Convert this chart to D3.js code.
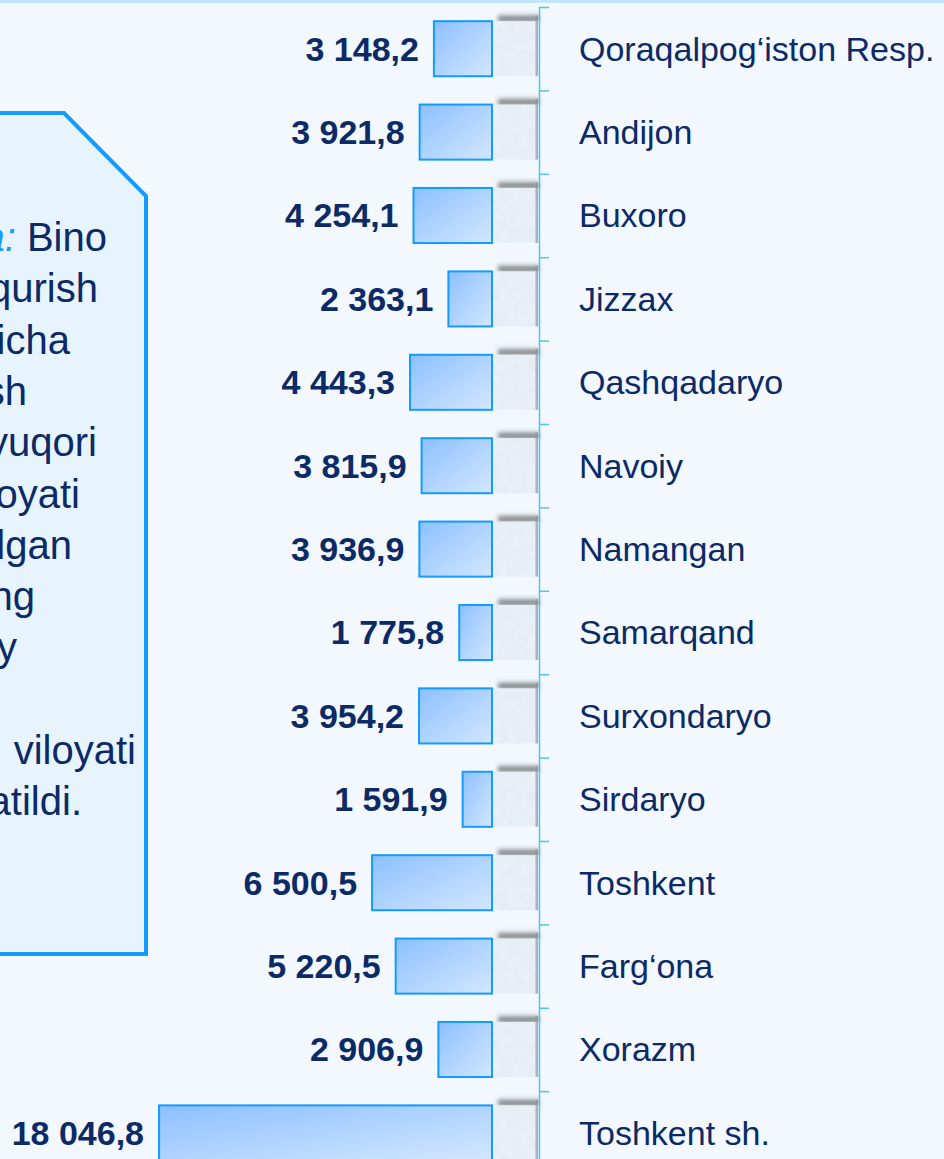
<!DOCTYPE html>
<html>
<head>
<meta charset="utf-8">
<script src="https://cdn.jsdelivr.net/npm/d3@7"></script>
<style>
  body { margin: 0; background: #f2f8fe; }
  svg { display: block; font-family: "Liberation Sans", Arial, sans-serif; }
</style>
</head>
<body>
<svg id="chart" width="944" height="1159"></svg>
<script>
// regions (top to bottom) and values
var regions = ["Qoraqalpog‘iston Resp.", "Andijon", "Buxoro", "Jizzax", "Qashqadaryo",
    "Navoiy", "Namangan", "Samarqand", "Surxondaryo", "Sirdaryo", "Toshkent",
    "Farg‘ona", "Xorazm", "Toshkent sh."];
var values = [3148.2, 3921.8, 4254.1, 2363.1, 4443.3, 3815.9, 3936.9, 1775.8,
    3954.2, 1591.9, 6500.5, 5220.5, 2906.9, 18046.8];

// note box text (only right part of it is visible on the slide)
var noteLines = ["Bino", "qurish", "bo‘yicha", "ishlash", "eng yuqori", "viloyati",
    "bo‘lgan", "ning", "ijtimoiy", "", "viloyati", "ko‘rsatildi."];
var noteEnds = [107, 98, 70, 27, 97, 80, 72, 35, 17, 0, 136, 82];

var svg = d3.select("#chart"),
    width = +svg.attr("width"),
    height = +svg.attr("height");

var navy = "#0b2a66";

var uzNum = d3.formatLocale({decimal: ",", thousands: "\u00a0", grouping: [3], currency: ["", ""]});
var fmt = uzNum.format(",.1f");

var defs = svg.append("defs");

var grad = defs.append("linearGradient").attr("id", "barFill")
    .attr("x1", 0).attr("y1", 0).attr("x2", 1).attr("y2", 1);
grad.append("stop").attr("offset", "0%").attr("stop-color", "#8cc0ff");
grad.append("stop").attr("offset", "100%").attr("stop-color", "#d3e7ff");

var shade = defs.append("linearGradient").attr("id", "shade")
    .attr("x1", 0).attr("y1", 0).attr("x2", 0).attr("y2", 1);
shade.append("stop").attr("offset", "0%").attr("stop-color", "#666").attr("stop-opacity", 0);
shade.append("stop").attr("offset", "60%").attr("stop-color", "#555").attr("stop-opacity", 0.7);
shade.append("stop").attr("offset", "100%").attr("stop-color", "#555").attr("stop-opacity", 0.95);

var blur = defs.append("filter").attr("id", "blur").attr("x", -0.3).attr("y", -1)
    .attr("width", 1.6).attr("height", 3);
blur.append("feGaussianBlur").attr("stdDeviation", 2);

var spk = defs.append("filter").attr("id", "speckle").attr("x", 0).attr("y", 0)
    .attr("width", 1).attr("height", 1);
spk.append("feTurbulence").attr("type", "fractalNoise").attr("baseFrequency", 0.14)
    .attr("numOctaves", 2).attr("seed", 4).attr("result", "t");
spk.append("feColorMatrix").attr("in", "t").attr("type", "matrix")
    .attr("values", "0 0 0 0 0.76  0 0 0 0 0.81  0 0 0 0 0.87  1.7 0 0 0 -0.65")
    .attr("result", "d");
spk.append("feComposite").attr("in", "d").attr("in2", "SourceGraphic")
    .attr("operator", "in").attr("result", "m");
var mg = spk.append("feMerge");
mg.append("feMergeNode").attr("in", "SourceGraphic");
mg.append("feMergeNode").attr("in", "m");

// top strip
svg.append("rect").attr("x", 0).attr("y", 0).attr("width", width).attr("height", 3)
    .attr("fill", "#c3e6fb");

// note box
svg.append("path")
    .attr("d", "M-10,113 L64,113 L146,196 L146,954 L-10,954 Z")
    .attr("fill", "#e7f4fe")
    .attr("stroke", "#149bff")
    .attr("stroke-width", 4);

var note = svg.append("g").attr("fill", navy).style("font-size", "40px");
note.selectAll("text")
    .data(noteLines)
    .enter().append("text")
    .attr("x", function (d, i) { return noteEnds[i]; })
    .attr("y", function (d, i) { return 251 + i * 51.3; })
    .attr("text-anchor", "end")
    .each(function (d, i) {
        var t = d3.select(this);
        if (i === 0) {
            t.append("tspan").attr("fill", "#1a9bff").style("font-style", "italic").text("Xulosa:");
            t.append("tspan").text(" " + d);
        } else {
            t.text(d);
        }
    });

// scales
var axisX = 539, baseX = 492;
var x = d3.scaleLinear().domain([0, 20000]).range([baseX, baseX - 369]);
var y = d3.scaleBand().domain(regions).range([7, 7 + 14 * 83.4])
    .paddingInner(0.34).paddingOuter(0.17);

var rows = svg.append("g").selectAll("g")
    .data(regions)
    .enter().append("g");

// back block (textured) with shadow on top
rows.append("rect")
    .attr("x", baseX + 6)
    .attr("y", function (d) { return y(d) - 8; })
    .attr("width", axisX - baseX - 6)
    .attr("height", 8)
    .attr("fill", "url(#shade)")
    .attr("filter", "url(#blur)");

rows.append("rect")
    .attr("x", baseX)
    .attr("y", function (d) { return y(d); })
    .attr("width", axisX - baseX)
    .attr("height", y.bandwidth())
    .attr("fill", "#e8f0f8")
    .attr("filter", "url(#speckle)");

rows.append("rect")
    .attr("x", axisX - 3.5)
    .attr("y", function (d) { return y(d) - 6; })
    .attr("width", 2.5)
    .attr("height", y.bandwidth() + 6)
    .attr("fill", "#7f8c98")
    .attr("opacity", 0.6);

// bars
rows.append("rect")
    .attr("x", function (d, i) { return x(values[i]); })
    .attr("y", function (d) { return y(d); })
    .attr("width", function (d, i) { return x(0) - x(values[i]); })
    .attr("height", y.bandwidth())
    .attr("fill", "url(#barFill)")
    .attr("stroke", "#149bff")
    .attr("stroke-width", 2);

// value labels
rows.append("text")
    .attr("x", function (d, i) { return x(values[i]) - 15; })
    .attr("y", function (d) { return y(d) + y.bandwidth() / 2; })
    .attr("dy", "0.35em")
    .attr("text-anchor", "end")
    .attr("fill", navy)
    .style("font-size", "34px")
    .style("font-weight", "bold")
    .text(function (d, i) { return fmt(values[i]); });

// axis with ticks between categories
var edge = d3.scaleLinear().domain([0, regions.length]).range(y.range());
var axis = svg.append("g")
    .attr("transform", "translate(" + axisX + ",0)")
    .call(d3.axisRight(edge).tickValues(d3.range(regions.length + 1))
        .tickSize(10).tickSizeOuter(0).tickFormat(""));
axis.selectAll("path, line").attr("stroke", "#56c1ee").attr("stroke-width", 1.5);

// category labels
svg.append("g").selectAll("text")
    .data(regions)
    .enter().append("text")
    .attr("x", 579)
    .attr("y", function (d) { return y(d) + y.bandwidth() / 2; })
    .attr("dy", "0.35em")
    .attr("fill", navy)
    .style("font-size", "34px")
    .text(function (d) { return d; });
</script>
</body>
</html>
